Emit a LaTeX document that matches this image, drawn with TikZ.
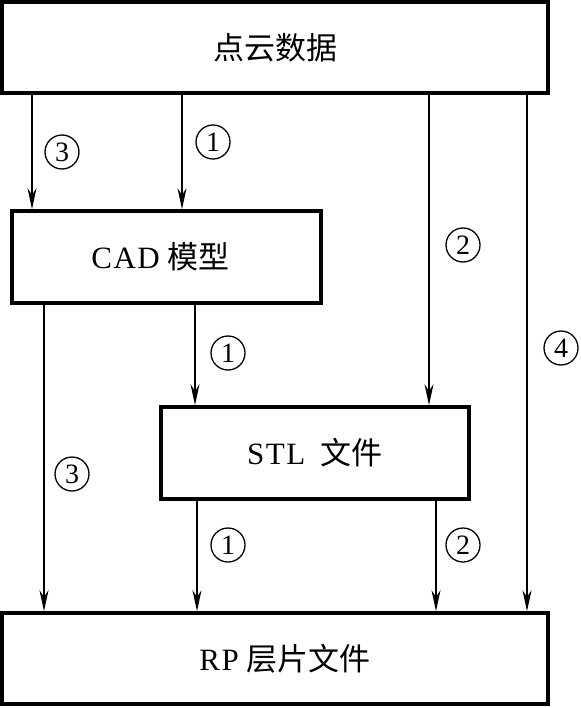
\documentclass[tikz,border=0pt]{standalone}
\usepackage{fontspec}
\setmainfont{Liberation Serif}
\newfontfamily\cjk{Noto Sans CJK SC}
\newfontfamily\lat[LetterSpace=5]{Liberation Serif}
\usetikzlibrary{arrows.meta}
\begin{document}
\begin{tikzpicture}[x=1pt,y=-1pt,
  box/.style={draw,line width=3.6pt,minimum width=#1,minimum height=91pt,inner sep=0pt,font=\fontsize{31}{34}\selectfont},
  arr/.style={line width=1.5pt,-{Stealth[length=21pt,width=9pt]}},
  num/.style={draw,circle,line width=1.3pt,minimum size=34pt,inner sep=0pt,font=\fontsize{28}{29}\selectfont}]
\useasboundingbox (0,0) rectangle (580,708);
\node[box=546pt] (top) at (275,47.5) {\cjk 点云数据};
\node[box=309pt,minimum height=92pt] (cad) at (166.5,257) {\hspace*{-12pt}{\lat CAD} {\cjk 模型}};
\node[box=308pt,minimum height=92pt] (stl) at (315,453) {{\lat STL} \ {\cjk 文件}};
\node[box=546pt] (rp) at (275,658.5) {\hspace*{20pt}{\lat RP} {\cjk 层片文件}};
% arrows
\draw[arr] (top.south -| 32,0) -- (cad.north -| 32,0);
\draw[arr] (top.south -| 182,0) -- (cad.north -| 182,0);
\draw[arr] (top.south -| 429,0) -- (stl.north -| 429,0);
\draw[arr] (top.south -| 527,0) -- (rp.north -| 527,0);
\draw[arr] (cad.south -| 44,0) -- (rp.north -| 44,0);
\draw[arr] (cad.south -| 195,0) -- (stl.north -| 195,0);
\draw[arr] (stl.south -| 197,0) -- (rp.north -| 197,0);
\draw[arr] (stl.south -| 436,0) -- (rp.north -| 436,0);
% labels
\node[num] (n3a) at (62,152) {3};
\node[num] (n1a) at (213,142) {1};
\node[num] (n2a) at (463,245) {2};
\node[num] (n4) at (561,348) {4};
\node[num] (n1b) at (228,353) {1};
\node[num] (n3b) at (72,474) {3};
\node[num] (n1c) at (228,545) {1};
\node[num] (n2b) at (463,545) {2};
\end{tikzpicture}
\end{document}
